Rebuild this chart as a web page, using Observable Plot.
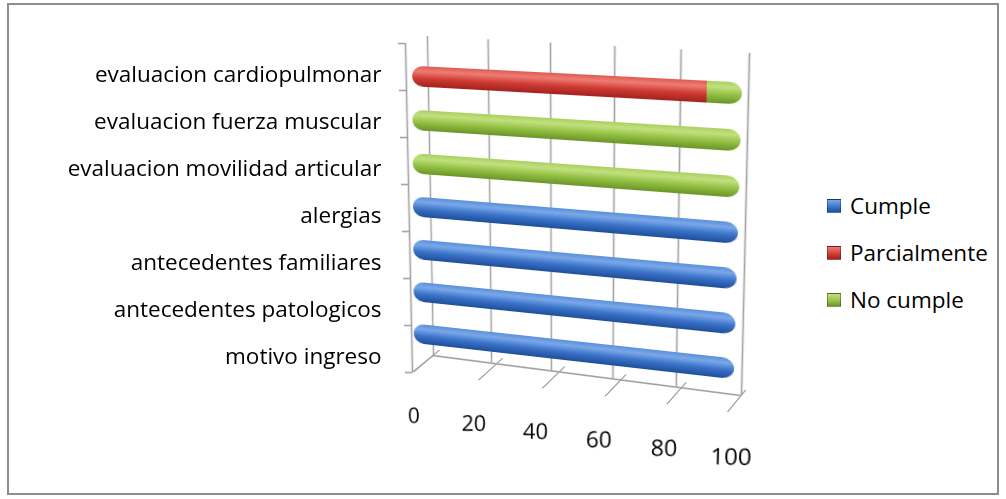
<!DOCTYPE html>
<html>
<head>
<meta charset="utf-8">
<script src="https://cdn.jsdelivr.net/npm/d3@7"></script>
<script src="https://cdn.jsdelivr.net/npm/@observablehq/plot@0.6"></script>
<style>
  html, body { margin: 0; padding: 0; background: #fff; }
  #wrap { position: relative; width: 1006px; height: 499px; overflow: hidden; font-family: "Open Sans", Lato, sans-serif; }
  #frame { position: absolute; left: 7px; top: 3px; width: 992px; height: 492px; border: 2px solid #8e8e8e; box-sizing: border-box; }
  .layer { position: absolute; left: 0; top: 0; transform-origin: 0 0; }
  .layer svg { display: block; max-width: none !important; overflow: visible; }
  #legend { position: absolute; left: 827px; top: 182px; font-size: 22.5px; color: #000; }
  #legend div { display: flex; align-items: center; height: 47px; }
  #legend span.sw { display: inline-block; width: 14px; height: 14px; margin-right: 9px; box-sizing: border-box; border: 1px solid rgba(0,0,0,0.3); }
</style>
</head>
<body>
<div id="wrap">
  <div id="frame"></div>
  <div id="legend"></div>
</div>
<script>
// Rubros evaluados (de abajo hacia arriba) y porcentaje por respuesta
const categories = [
  "motivo ingreso",
  "antecedentes patologicos",
  "antecedentes familiares",
  "alergias",
  "evaluacion movilidad articular",
  "evaluacion fuerza muscular",
  "evaluacion cardiopulmonar"
];
const seriesNames = ["Cumple", "Parcialmente", "No cumple"];
const cumple       = [100, 100, 100, 100, 0, 0, 0];
const parcialmente = [0, 0, 0, 0, 0, 0, 90];
const noCumple     = [0, 0, 0, 0, 100, 100, 10];
const xTicks = [0, 20, 40, 60, 80, 100];

const shades = {
  "Cumple":       ["#5a8fdc", "#7aa8e8", "#3a72c8", "#1e4e98"],
  "Parcialmente": ["#de5a52", "#ee7d74", "#cf3a33", "#a0221e"],
  "No cumple":    ["#a9d05e", "#c2e07f", "#93c043", "#6a9428"]
};
const gradId = {"Cumple": "g-cumple", "Parcialmente": "g-parc", "No cumple": "g-nocumple"};

// stacked segments with their start/end in percent
const series = [cumple, parcialmente, noCumple];
const rows = [];
categories.forEach((c, i) => {
  const parts = series.map((s, j) => ({serie: seriesNames[j], valor: s[i]})).filter(p => p.valor > 0);
  let acc = 0;
  parts.forEach((p, k) => {
    rows.push({categoria: c, serie: p.serie, x1: acc, x2: acc + p.valor, first: k === 0, last: k === parts.length - 1});
    acc += p.valor;
  });
});

const topDown = categories.slice().reverse();
const boundaries = d3.range(categories.length + 1);
const gray = "#a3a3a3";
const font = "'Open Sans', Lato, sans-serif";
const wrap = document.getElementById("wrap");

// projective transform taking the source frame rectangle onto a quadrilateral
function homography(src, quad) {
  const [x0, y0, x1, y1] = src;
  const [[X0, Y0], [X1, Y1], [X2, Y2], [X3, Y3]] = quad;
  const dx1 = X1 - X2, dx2 = X3 - X2, dx3 = X0 - X1 + X2 - X3;
  const dy1 = Y1 - Y2, dy2 = Y3 - Y2, dy3 = Y0 - Y1 + Y2 - Y3;
  const den = dx1 * dy2 - dx2 * dy1;
  const g = (dx3 * dy2 - dx2 * dy3) / den;
  const h = (dx1 * dy3 - dx3 * dy1) / den;
  const H = [
    [X1 - X0 + g * X1, X3 - X0 + h * X3, X0],
    [Y1 - Y0 + g * Y1, Y3 - Y0 + h * Y3, Y0],
    [g, h, 1]
  ];
  const w = x1 - x0, hh = y1 - y0;
  const N = [[1 / w, 0, -x0 / w], [0, 1 / hh, -y0 / hh], [0, 0, 1]];
  const M = H.map(r => [0, 1, 2].map(c => r[0] * N[0][c] + r[1] * N[1][c] + r[2] * N[2][c]));
  return `matrix3d(${M[0][0]},${M[1][0]},0,${M[2][0]},${M[0][1]},${M[1][1]},0,${M[2][1]},0,0,1,0,${M[0][2]},${M[1][2]},0,${M[2][2]})`;
}

// one plane of the 3-D box: a small plot whose frame is mapped onto quad
function layer(options, fw, fh, pad, quad) {
  const W = fw + 2 * pad, H = fh + 2 * pad;
  const svg = Plot.plot({
    ...options,
    width: W, height: H,
    marginLeft: pad, marginRight: pad, marginTop: pad, marginBottom: pad,
    style: {background: "none", fontFamily: font, overflow: "visible"}
  });
  const div = document.createElement("div");
  div.className = "layer";
  div.style.width = W + "px";
  div.style.height = H + "px";
  div.style.transform = homography([pad, pad, pad + fw, pad + fh], quad);
  div.appendChild(svg);
  wrap.appendChild(div);
  return svg;
}

// back wall with the vertical gridlines
layer({
  x: {domain: [0, 100], axis: null},
  y: {domain: [0, 1], axis: null},
  marks: [Plot.ruleX(xTicks, {x: d => d, y1: 0, y2: 1, stroke: gray, strokeWidth: 1.6})]
}, 320, 330, 20, [[427, 36], [749, 53], [741, 395], [433, 355]]);

// floor: front edge and the depth lines for each tick
layer({
  x: {domain: [0, 100], axis: null},
  y: {domain: [0, 1], axis: null},
  marks: [
    Plot.ruleX(xTicks, {x: d => d, y1: 0, y2: 1.3, stroke: gray, strokeWidth: 1.6}),
    Plot.ruleY([1], {x1: 0, x2: 100, stroke: gray, strokeWidth: 1.6})
  ]
}, 320, 17, 20, [[433, 355], [741, 395], [727, 412], [413, 372]]);

// left wall: top edge running back to the rear wall
layer({
  x: {domain: [0, 1], axis: null},
  y: {domain: [0, categories.length], axis: null},
  marks: [Plot.ruleY([0], {x1: 0, x2: 1, stroke: gray, strokeWidth: 1.6})]
}, 22, 330, 20, [[405, 43], [427, 36], [433, 355], [412, 372]]);

// category axis line with horizontal ticks at the band boundaries
layer({
  x: {domain: [-1, 0], axis: null},
  y: {domain: [0, categories.length], axis: null},
  marks: [
    Plot.ruleX([0], {y1: 0, y2: categories.length, stroke: gray, strokeWidth: 1.6}),
    Plot.ruleY(boundaries, {y: d => d, x1: -1, x2: 0, stroke: gray, strokeWidth: 1.6})
  ]
}, 7, 329, 20, [[398, 43], [405, 43], [412, 372], [405, 372]]);

// the bars and the value axis
const rx = 11;
const barQuad = [[412, 41], [743, 56], [733, 405], [414, 367]];
const barSvg = layer({
  x: {domain: [0, 100], axis: null},
  y: {domain: topDown, type: "band", padding: 0.53, axis: null},
  marks: [
    Plot.barX(rows, {y: "categoria", x1: "x1", x2: "x2", fill: d => `url(#${gradId[d.serie]})`, rx}),
    Plot.barX(rows.filter(d => !d.last), {y: "categoria", x1: "x1", x2: "x2", fill: d => `url(#${gradId[d.serie]})`, insetLeft: rx}),
    Plot.barX(rows.filter(d => !d.first), {y: "categoria", x1: "x1", x2: "x2", fill: d => `url(#${gradId[d.serie]})`, insetRight: rx}),
    Plot.axisX(xTicks, {anchor: "bottom", tickSize: 0, tickPadding: 42, dx: -1, fontSize: 22.5, fill: "#000", label: null})
  ]
}, 320, 327, 80, barQuad);

const defs = d3.select(barSvg).insert("defs", ":first-child");
for (const s of seriesNames) {
  const g = defs.append("linearGradient").attr("id", gradId[s])
    .attr("x1", 0).attr("y1", 0).attr("x2", 0).attr("y2", 1);
  [[0, 0], [0.25, 1], [0.6, 2], [1, 3]].forEach(([o, k]) =>
    g.append("stop").attr("offset", o).attr("stop-color", shades[s][k]));
}

// keep the value labels upright by undoing the plane's shear
const shear = Math.atan2(barQuad[2][1] - barQuad[3][1], barQuad[2][0] - barQuad[3][0]) * 180 / Math.PI;
d3.select(barSvg).selectAll("g[aria-label='x-axis tick label'] text").each(function () {
  const t = this.getAttribute("transform");
  if (t) {
    this.setAttribute("transform", `${t} skewY(${-shear})`);
  } else {
    const x = +this.getAttribute("x") || 0, y = +this.getAttribute("y") || 0;
    this.setAttribute("transform", `translate(${x},${y}) skewY(${-shear}) translate(${-x},${-y})`);
  }
});

// category labels, kept upright
const labels = Plot.plot({
  width: 1006,
  height: 499,
  marginLeft: 381,
  marginRight: 200,
  marginTop: 50.5,
  marginBottom: 119.5,
  style: {background: "none", fontFamily: font},
  y: {domain: topDown, type: "band", padding: 0, axis: null},
  marks: [Plot.axisY({tickSize: 0, tickPadding: 0, fontSize: 22.5, fill: "#000", label: null})]
});
const ldiv = document.createElement("div");
ldiv.className = "layer";
ldiv.appendChild(labels);
wrap.appendChild(ldiv);

const legend = d3.select("#legend");
for (const s of seriesNames) {
  const row = legend.append("div");
  row.append("span").attr("class", "sw")
    .style("background", `linear-gradient(${shades[s][1]}, ${shades[s][2]} 60%, ${shades[s][3]})`);
  row.append("span").text(s);
}
</script>
</body>
</html>
